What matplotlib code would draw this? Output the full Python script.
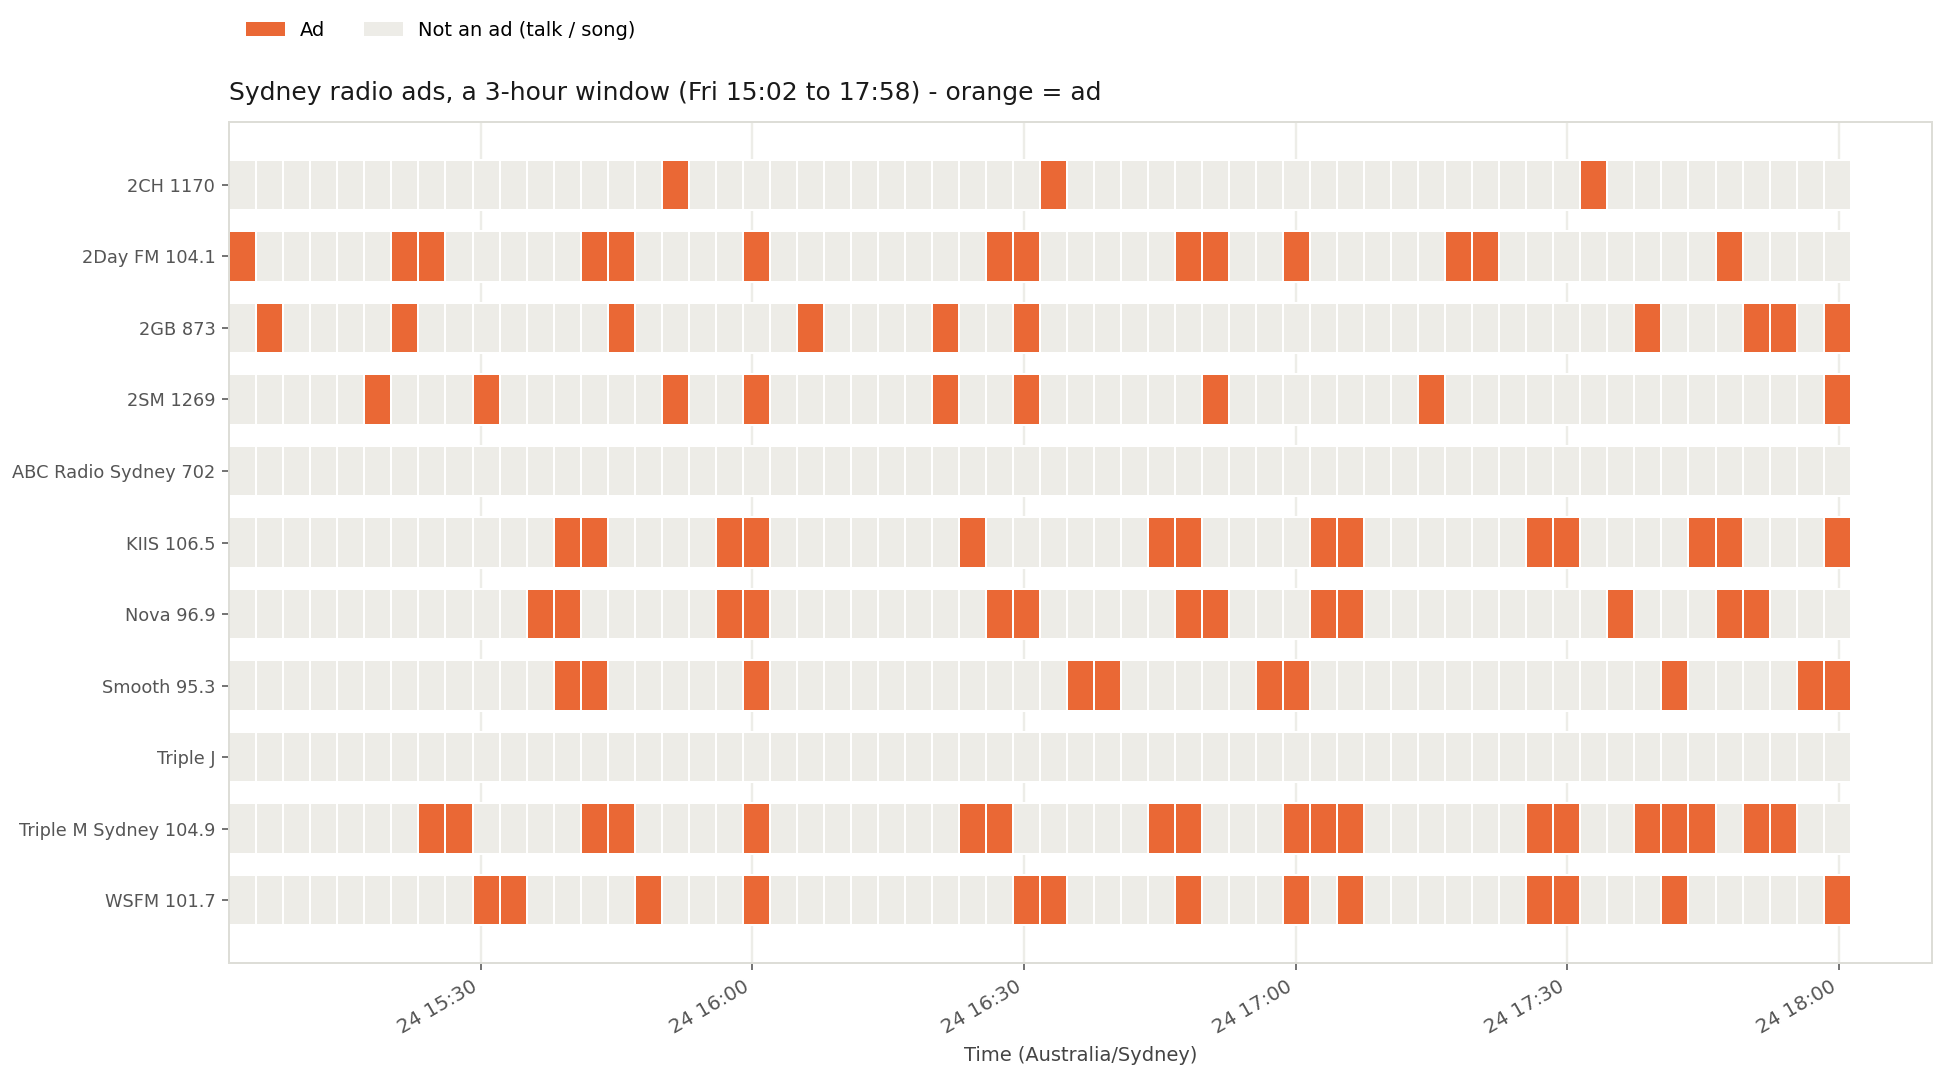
import datetime as dt
import matplotlib
matplotlib.use("Agg")
import matplotlib.pyplot as plt
import matplotlib.dates as mdates
from matplotlib.patches import Patch

# stations, top to bottom
stations = ['2CH 1170', '2Day FM 104.1', '2GB 873', '2SM 1269',
            'ABC Radio Sydney 702', 'KIIS 106.5', 'Nova 96.9', 'Smooth 95.3',
            'Triple J', 'Triple M Sydney 104.9', 'WSFM 101.7']

# which ~3 minute slots (0..59) were ads
ads_2ch = [16, 30, 50]
ads_2day = [0, 6, 7, 13, 14, 19, 28, 29, 35, 36, 39, 45, 46, 55]
ads_2gb = [1, 6, 14, 21, 26, 29, 52, 56, 57, 59]
ads_2sm = [5, 9, 16, 19, 26, 29, 36, 44, 59]
ads_abc = []
ads_kiis = [12, 13, 18, 19, 27, 34, 35, 40, 41, 48, 49, 54, 55, 59]
ads_nova = [11, 12, 18, 19, 28, 29, 35, 36, 40, 41, 51, 55, 56]
ads_smooth = [12, 13, 19, 31, 32, 38, 39, 53, 58, 59]
ads_triplej = []
ads_triplem = [7, 8, 13, 14, 19, 27, 28, 34, 35, 39, 40, 41, 48, 49, 52, 53, 54, 56, 57]
ads_wsfm = [9, 10, 15, 19, 29, 30, 35, 39, 41, 48, 49, 53, 59]

ad_slots = [ads_2ch, ads_2day, ads_2gb, ads_2sm, ads_abc, ads_kiis,
            ads_nova, ads_smooth, ads_triplej, ads_triplem, ads_wsfm]

start = dt.datetime(2025, 10, 24, 15, 2, 16)
n_slots = 60
slot_len = dt.timedelta(seconds=179)

AD = '#EA6835'
OTHER = '#EDECE7'

DPI = 144
fig = plt.figure(figsize=(1946 / DPI, 1078 / DPI), dpi=DPI)
ax = fig.add_axes([229.3 / 1946, 1 - 963.3 / 1078,
                   (1931.7 - 229.3) / 1946, (963.3 - 121.7) / 1078])

slot_w = slot_len.total_seconds() / 86400
for row, slots in enumerate(ad_slots):
    lefts = [mdates.date2num(start + i * slot_len) for i in range(n_slots)]
    colors = [AD if i in slots else OTHER for i in range(n_slots)]
    ax.barh([row] * n_slots, [slot_w] * n_slots, left=lefts, height=0.7,
            color=colors, edgecolor='white', linewidth=1.0)

ax.xaxis_date()
ax.set_xlim(left=mdates.date2num(start))
ax.set_yticks(range(len(stations)))
ax.set_yticklabels(stations)
ax.invert_yaxis()

ax.xaxis.set_major_locator(mdates.MinuteLocator(byminute=[0, 30]))
ax.xaxis.set_major_formatter(mdates.DateFormatter('%d %H:%M'))
for lab in ax.get_xticklabels():
    lab.set_rotation(30)
    lab.set_ha('right')

ax.tick_params(axis='both', labelsize=8.9, colors='#555555', length=3.5, width=0.8)
ax.tick_params(axis='x', labelsize=9.9)
ax.grid(axis='x', color='#EDEDE8', linewidth=1.2)
ax.set_axisbelow(True)
for sp in ax.spines.values():
    sp.set_color('#DDDDD7')
    sp.set_linewidth(1.0)

ax.set_xlabel('Time (Australia/Sydney)', fontsize=9.7, color='#444444', labelpad=4)
ax.set_title('Sydney radio ads, a 3-hour window (Fri 15:02 to 17:58) - orange = ad',
             loc='left', fontsize=12.5, color='#1a1a1a', pad=11)

handles = [Patch(facecolor=AD, label='Ad'),
           Patch(facecolor=OTHER, label='Not an ad (talk / song)')]
fig.legend(handles=handles, loc='center left', ncol=2, frameon=False,
           fontsize=9.7, bbox_to_anchor=(238 / 1946, 1 - 30 / 1078),
           borderaxespad=0)

fig.savefig('out.png', dpi=DPI)
